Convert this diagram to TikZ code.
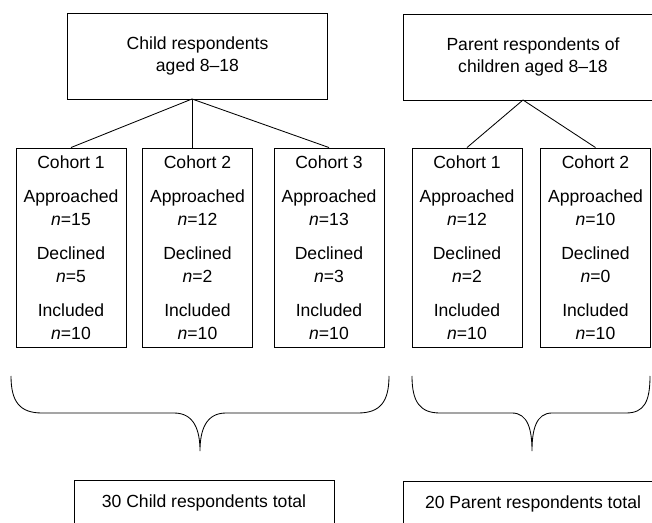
\documentclass[tikz,border=0pt]{standalone}
\usepackage{fontspec}
\setmainfont{Liberation Sans}
\usepackage{tikz}
\usetikzlibrary{calc,positioning}

\begin{document}
\begin{tikzpicture}[x=0.025cm,y=-0.025cm,line width=0.6pt,
    every node/.style={font=\fontsize{12.5}{16}\selectfont,align=center,inner sep=0pt},
    topbox/.style={draw,minimum width=6.5cm,minimum height=2.15cm},
    cohortbox/.style={draw,minimum width=2.75cm,minimum height=4.975cm,
      font=\fontsize{12.5}{16.4}\selectfont},
    totalbox/.style={draw,minimum width=6.5cm,minimum height=1.15cm}]
        % Fix the page to the picture size (pixel units)
        \useasboundingbox (0,0) rectangle (652,523);
        \clip (0,0) rectangle (652,523);
        % Top boxes
        \node[topbox] (child) at (197.5,56) {Child respondents\\aged 8--18};
        \node[topbox] (parent) at (533,57) {Parent respondents of\\children aged 8--18};
        % Cohort boxes of the children
        \node[cohortbox] (ccone) at (71,247.5) {Cohort 1\\[0.275cm]Approached\\\textit{n}=15\\[0.275cm]Declined\\\textit{n}=5\\[0.275cm]Included\\\textit{n}=10};
        \node[cohortbox] (cctwo) at (197.5,247.5) {Cohort 2\\[0.275cm]Approached\\\textit{n}=12\\[0.275cm]Declined\\\textit{n}=2\\[0.275cm]Included\\\textit{n}=10};
        \node[cohortbox] (ccthree) at (329,247.5) {Cohort 3\\[0.275cm]Approached\\\textit{n}=13\\[0.275cm]Declined\\\textit{n}=3\\[0.275cm]Included\\\textit{n}=10};
        % Cohort boxes of the parents
        \node[cohortbox] (pcone) at (467,247.5) {Cohort 1\\[0.275cm]Approached\\\textit{n}=12\\[0.275cm]Declined\\\textit{n}=2\\[0.275cm]Included\\\textit{n}=10};
        \node[cohortbox] (pctwo) at (595.5,247.5) {Cohort 2\\[0.275cm]Approached\\\textit{n}=10\\[0.275cm]Declined\\\textit{n}=0\\[0.275cm]Included\\\textit{n}=10};
        % Branch points
        \coordinate (cfork) at (192,99);
        \coordinate (pfork) at (523,100);
        % Branches
        \draw (cfork) -- (ccone.north);
        \draw (cfork) -- (cfork |- cctwo.north);
        \draw (cfork) -- (ccthree.north);
        \draw (pfork) -- (pcone.north);
        \draw (pfork) -- (pctwo.north);
        % Braces
        \draw (11,376) .. controls (11,402) and (20,413) .. (42,413) -- (174,413)
          .. controls (194,413) and (200,430) .. (200,451)
          .. controls (200,430) and (206,413) .. (226,413) -- (358,413)
          .. controls (380,413) and (389,402) .. (389,376);
        \draw (412,376) .. controls (412,402) and (420,413) .. (440,413) -- (512,413)
          .. controls (528,413) and (532,430) .. (532,451)
          .. controls (532,430) and (536,413) .. (552,413) -- (626,413)
          .. controls (644,413) and (650,402) .. (650,376);
        % Totals
        \node[totalbox] (ctotal) at (204,503) {30 Child respondents total};
        \node[totalbox] (ptotal) at (533,504) {20 Parent respondents total};
      \end{tikzpicture}
\end{document}
